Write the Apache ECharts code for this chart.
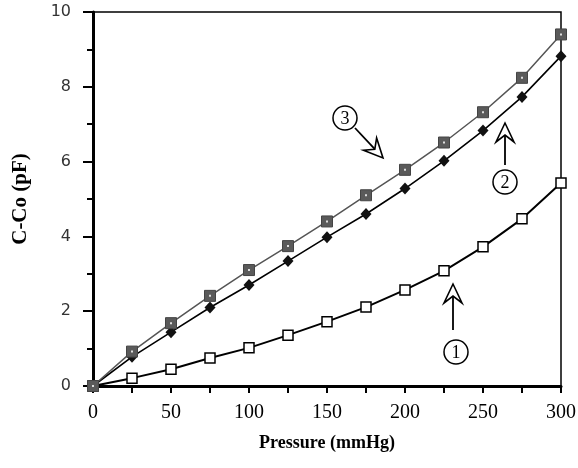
<!DOCTYPE html>
<html>
<head>
<meta charset="utf-8">
<script src="https://cdn.jsdelivr.net/npm/echarts@6/dist/echarts.min.js"></script>
<style>
  html, body { margin: 0; padding: 0; background: #fff; }
  #chart { width: 578px; height: 468px; }
</style>
</head>
<body>
<div id="chart"></div>
<script>
// pressure (mmHg)
const pressure = [0, 25, 50, 75, 100, 125, 150, 175, 200, 225, 250, 275, 300];
// curve 1 - open squares
const curve1 = [0, 0.21, 0.45, 0.75, 1.02, 1.36, 1.72, 2.11, 2.57, 3.08, 3.72, 4.47, 5.43];
// curve 2 - black diamonds
const curve2 = [0, 0.78, 1.44, 2.10, 2.70, 3.34, 3.98, 4.60, 5.28, 6.02, 6.83, 7.73, 8.82];
// curve 3 - grey squares
const curve3 = [0, 0.92, 1.68, 2.41, 3.10, 3.74, 4.40, 5.10, 5.78, 6.51, 7.32, 8.24, 9.40];

const pairs = ys => pressure.map((x, i) => [x, ys[i]]);

const chart = echarts.init(document.getElementById('chart'));

// hollow arrow head + shaft + circled number
function note(label, cx, cy, x1, y1, x2, y2) {
  const dx = x2 - x1, dy = y2 - y1;
  const len = Math.sqrt(dx * dx + dy * dy);
  const ux = dx / len, uy = dy / len;
  const px = -uy, py = ux;
  const hl = 19, hw = 9, notch = 7;
  const head = [
    [x2 - ux * hl + px * hw, y2 - uy * hl + py * hw],
    [x2, y2],
    [x2 - ux * hl - px * hw, y2 - uy * hl - py * hw],
    [x2 - ux * (hl - notch), y2 - uy * (hl - notch)]
  ];
  return [
    { type: 'line', shape: { x1: x1, y1: y1, x2: x2 - ux * (hl - notch), y2: y2 - uy * (hl - notch) },
      style: { stroke: '#000', lineWidth: 1.8 } },
    { type: 'polygon', shape: { points: head }, style: { fill: '#fff', stroke: '#000', lineWidth: 1.6 } },
    { type: 'circle', shape: { cx: cx, cy: cy, r: 12 }, style: { fill: '#fff', stroke: '#000', lineWidth: 1.5 } },
    { type: 'text', x: cx, y: cy + 1, style: { text: label, font: '18px "Liberation Serif", serif',
      fill: '#000', align: 'center', verticalAlign: 'middle' } }
  ];
}

const options = {
  animation: false,
  grid: {
    left: 93,
    right: 17,
    top: 12,
    bottom: 82,
    outerBoundsMode: 'none',
    show: true,
    borderColor: '#000',
    borderWidth: 1.5
  },
  xAxis: {
    type: 'value',
    min: 0,
    max: 300,
    interval: 50,
    name: 'Pressure (mmHg)',
    nameLocation: 'middle',
    nameGap: 48,
    nameTextStyle: { fontFamily: 'Liberation Serif', fontWeight: 'bold', fontSize: 18, color: '#000' },
    axisLine: { lineStyle: { color: '#000', width: 3 } },
    axisTick: { length: 7, lineStyle: { color: '#000', width: 2 } },
    minorTick: { show: true, splitNumber: 2, length: 7, lineStyle: { color: '#000', width: 2 } },
    axisLabel: { fontFamily: 'Liberation Serif', fontSize: 20, color: '#000', margin: 17 },
    splitLine: { show: false }
  },
  yAxis: {
    type: 'value',
    min: 0,
    max: 10,
    interval: 2,
    name: 'C-Co (pF)',
    nameLocation: 'middle',
    nameGap: 62,
    nameTextStyle: { fontFamily: 'Liberation Serif', fontWeight: 'bold', fontSize: 21, color: '#000' },
    axisLine: { lineStyle: { color: '#000', width: 3 } },
    axisTick: { length: 10, lineStyle: { color: '#000', width: 2 } },
    minorTick: { show: true, splitNumber: 2, length: 6, lineStyle: { color: '#000', width: 2 } },
    axisLabel: { fontFamily: 'DejaVu Sans', fontSize: 16, color: '#333', margin: 22 },
    splitLine: { show: false }
  },
  series: [
    {
      name: '1',
      type: 'line',
      data: pairs(curve1),
      symbol: 'rect',
      symbolSize: 10,
      lineStyle: { color: '#000', width: 2 },
      itemStyle: { color: '#fff', borderColor: '#000', borderWidth: 1.5 },
      z: 3
    },
    {
      name: '2',
      type: 'line',
      data: pairs(curve2),
      symbol: 'diamond',
      symbolSize: [11, 12],
      lineStyle: { color: '#000', width: 1.6 },
      itemStyle: { color: '#111', borderColor: '#111', borderWidth: 0 },
      z: 4
    },
    {
      name: '3',
      type: 'line',
      data: pairs(curve3),
      symbol: 'rect',
      symbolSize: 11,
      lineStyle: { color: '#555', width: 1.5 },
      itemStyle: { color: '#5a5a5a', borderColor: '#444', borderWidth: 1 },
      z: 5
    },
    {
      // white centre dot of the grey squares
      name: '3dot',
      type: 'scatter',
      data: pairs(curve3),
      symbol: 'rect',
      symbolSize: 2,
      itemStyle: { color: '#fff' },
      silent: true,
      z: 6
    }
  ],
  graphic: [].concat(
    note('1', 456, 352, 453, 330, 453, 284),
    note('2', 505, 182, 505, 165, 505, 123),
    note('3', 345, 118, 355, 128, 383, 158)
  )
};

chart.setOption(options);
window.addEventListener('resize', () => chart.resize());
</script>
</body>
</html>
